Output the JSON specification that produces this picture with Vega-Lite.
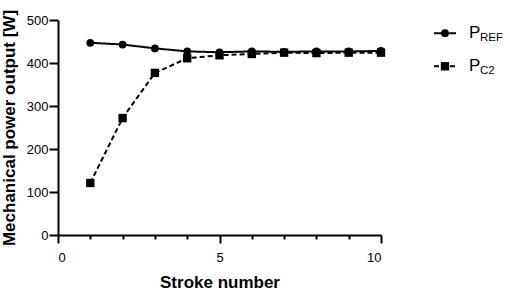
{
  "$schema": "https://vega.github.io/schema/vega-lite/v6.json",
  "padding": {"left": 0, "top": 9, "right": 0, "bottom": 0},
  "config": {
    "font": "Liberation Sans",
    "view": {"stroke": null},
    "axis": {
      "domainColor": "black",
      "domainWidth": 2,
      "tickColor": "black",
      "tickWidth": 2,
      "labelColor": "black",
      "labelFontSize": 13,
      "labelFont": "Liberation Sans",
      "titleFont": "Liberation Sans",
      "titleFontSize": 17,
      "titleFontWeight": "bold",
      "titleColor": "black",
      "grid": false
    }
  },
  "datasets": {
    "series": [
      {"stroke": 1, "power": 447, "series": "REF"},
      {"stroke": 2, "power": 443, "series": "REF"},
      {"stroke": 3, "power": 434, "series": "REF"},
      {"stroke": 4, "power": 427, "series": "REF"},
      {"stroke": 5, "power": 425, "series": "REF"},
      {"stroke": 6, "power": 427, "series": "REF"},
      {"stroke": 7, "power": 426, "series": "REF"},
      {"stroke": 8, "power": 427, "series": "REF"},
      {"stroke": 9, "power": 427, "series": "REF"},
      {"stroke": 10, "power": 428, "series": "REF"},
      {"stroke": 1, "power": 121, "series": "C2"},
      {"stroke": 2, "power": 272, "series": "C2"},
      {"stroke": 3, "power": 377, "series": "C2"},
      {"stroke": 4, "power": 411, "series": "C2"},
      {"stroke": 5, "power": 418, "series": "C2"},
      {"stroke": 6, "power": 421, "series": "C2"},
      {"stroke": 7, "power": 424, "series": "C2"},
      {"stroke": 8, "power": 423, "series": "C2"},
      {"stroke": 9, "power": 424, "series": "C2"},
      {"stroke": 10, "power": 424, "series": "C2"}
    ],
    "legend": [
      {"series": "REF", "row": 1, "main": "P", "sub": "REF"},
      {"series": "C2", "row": 2, "main": "P", "sub": "C2"}
    ]
  },
  "spacing": 8,
  "hconcat": [
    {
      "width": 323,
      "height": 215,
      "data": {"name": "series"},
      "encoding": {
        "x": {
          "field": "stroke",
          "type": "quantitative",
          "scale": {"domain": [0, 10], "nice": false, "zero": true},
          "axis": {
            "values": [0, 1, 2, 3, 4, 5, 6, 7, 8, 9, 10],
            "labelExpr": "datum.value % 5 === 0 ? datum.label : ''",
            "tickSize": {"condition": {"test": "datum.value % 5 === 0", "value": 8}, "value": 4},
            "labelPadding": 8,
            "title": "Stroke number",
            "titlePadding": 10
          }
        },
        "y": {
          "field": "power",
          "type": "quantitative",
          "scale": {"domain": [0, 500], "nice": false},
          "axis": {
            "values": [0, 100, 200, 300, 400, 500],
            "tickSize": 9,
            "labelPadding": 1,
            "title": "Mechanical power output [W]",
            "titlePadding": 8
          }
        },
        "detail": {"field": "series"}
      },
      "layer": [
        {
          "mark": {"type": "line", "color": "black", "strokeWidth": 2},
          "encoding": {
            "strokeDash": {
              "field": "series",
              "type": "nominal",
              "scale": {"domain": ["REF", "C2"], "range": [[1, 0], [5, 3]]},
              "legend": null
            }
          }
        },
        {
          "mark": {"type": "point", "filled": true, "color": "black", "opacity": 1},
          "encoding": {
            "shape": {
              "field": "series",
              "type": "nominal",
              "scale": {"domain": ["REF", "C2"], "range": ["circle", "square"]},
              "legend": null
            },
            "size": {
              "field": "series",
              "type": "nominal",
              "scale": {"domain": ["REF", "C2"], "range": [60, 70]},
              "legend": null
            }
          }
        }
      ]
    },
    {
      "width": 105,
      "height": 215,
      "data": {"name": "legend"},
      "encoding": {
        "y": {
          "field": "row",
          "type": "quantitative",
          "scale": {"domain": [0.6, 7.1], "reverse": true, "nice": false, "zero": false},
          "axis": null
        }
      },
      "layer": [
        {
          "mark": {"type": "rule", "color": "black", "strokeWidth": 2},
          "encoding": {
            "x": {"datum": 40, "type": "quantitative", "scale": {"domain": [0, 105], "nice": false}, "axis": null},
            "x2": {"datum": 62},
            "strokeDash": {
              "field": "series",
              "type": "nominal",
              "scale": {"domain": ["REF", "C2"], "range": [[1, 0], [4, 3]]},
              "legend": null
            }
          }
        },
        {
          "mark": {"type": "point", "filled": true, "color": "black", "opacity": 1},
          "encoding": {
            "x": {"datum": 51, "type": "quantitative"},
            "shape": {
              "field": "series",
              "type": "nominal",
              "scale": {"domain": ["REF", "C2"], "range": ["circle", "square"]},
              "legend": null
            },
            "size": {
              "field": "series",
              "type": "nominal",
              "scale": {"domain": ["REF", "C2"], "range": [60, 70]},
              "legend": null
            }
          }
        },
        {
          "mark": {"type": "text", "align": "left", "baseline": "middle", "fontSize": 17, "color": "black", "font": "Liberation Sans"},
          "encoding": {
            "x": {"datum": 75, "type": "quantitative"},
            "text": {"field": "main"}
          }
        },
        {
          "mark": {"type": "text", "align": "left", "baseline": "middle", "fontSize": 11.5, "dy": 5, "color": "black", "font": "Liberation Sans"},
          "encoding": {
            "x": {"datum": 86, "type": "quantitative"},
            "text": {"field": "sub"}
          }
        }
      ]
    }
  ]
}
